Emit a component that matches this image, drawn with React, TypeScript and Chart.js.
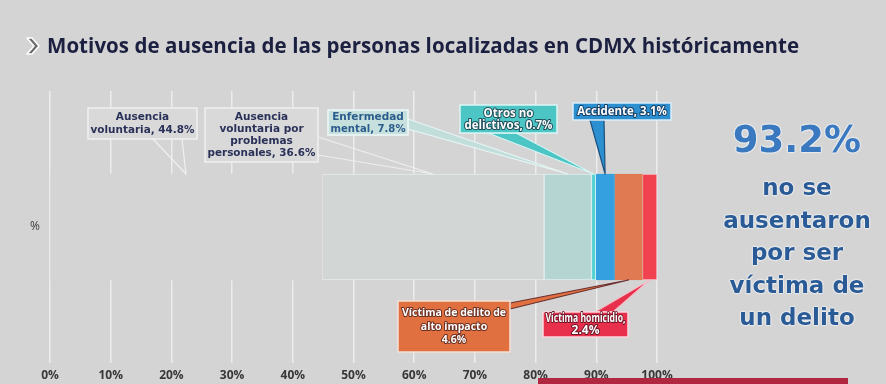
import React, { useEffect, useRef } from "react";
import { Chart, registerables } from "chart.js";

Chart.register(...registerables);

// ---------- DATA ----------
const Y_LABELS = ["%"];
const CATEGORIES = [
  "Ausencia voluntaria",
  "Ausencia voluntaria por problemas personales",
  "Enfermedad mental",
  "Otros no delictivos",
  "Accidente",
  "Víctima de delito de alto impacto",
  "Víctima homicidio",
];
const VALUES = [44.8, 36.6, 7.8, 0.7, 3.1, 4.6, 2.4];
const LABEL_LINES = [
  ["Ausencia", "voluntaria, 44.8%"],
  ["Ausencia", "voluntaria por", "problemas", "personales, 36.6%"],
  ["Enfermedad", "mental, 7.8%"],
  ["Otros no", "delictivos, 0.7%"],
  ["Accidente, 3.1%"],
  ["Víctima de delito de", "alto impacto", "4.6%"],
  ["Víctima homicidio,", "2.4%"],
];
const X_MIN = 0;
const X_MAX = 100;
const X_STEP = 10;
const TITLE = "Motivos de ausencia de las personas localizadas en CDMX históricamente";
const HIGHLIGHT_VALUE = "93.2%";
const HIGHLIGHT_LINES = ["no se", "ausentaron", "por ser", "víctima de", "un delito"];

// ---------- STYLE / LAYOUT ----------
const BG = "#d4d4d4";
const SEG_COLORS = ["#d4d4d4", "#d2d6d5", "#b5d5d2", "#55d0d0", "#35a0df", "#e07a52", "#f0424f"];
const SEG_BORDERS = ["rgba(0,0,0,0)", "#e6ecec", "#e0f0ef", "#c8f4f4", "#35a0df", "#e07a52", "#f6c9d0"];

type Callout = {
  box: [number, number, number, number];
  base: [number, number, number, number];
  side: "top" | "bottom";
  bg: string;
  border: string;
  text: string;
  textStroke?: string;
  font: string;
  lineH: number;
  wedgeFill?: string;
  wedgeStroke: string;
};

const DARK_FONT = "bold 10.5px 'DejaVu Sans'";
const LIGHT_FONT = "bold 11.5px 'Open Sans'";

const CALLOUTS: Callout[] = [
  { box: [88, 108, 109, 31], base: [153, 139, 182, 139], side: "top", bg: "#d9d9d9", border: "#f0f0f0",
    text: "#2a3158", font: DARK_FONT, lineH: 12.5, wedgeStroke: "#f0f0f0" },
  { box: [205, 108, 113, 54], base: [318, 137, 318, 155], side: "top", bg: "#d9d9d9", border: "#f0f0f0",
    text: "#2a3158", font: DARK_FONT, lineH: 12, wedgeStroke: "#eeeeee" },
  { box: [328, 110, 80, 25], base: [408, 119, 408, 129], side: "top", bg: "#c6e0dd", border: "#eef8f8",
    text: "#2c5d8c", font: DARK_FONT, lineH: 12, wedgeFill: "#c2dedb", wedgeStroke: "#e6f4f3" },
  { box: [460, 105, 97, 28], base: [488, 133, 516, 133], side: "top", bg: "#4cc5c5", border: "#dcf6f6",
    text: "#ffffff", textStroke: "#1f4f5a", font: LIGHT_FONT, lineH: 12, wedgeFill: "#4cc5c5", wedgeStroke: "#d8f4f4" },
  { box: [573, 103, 98, 17], base: [590, 120, 604, 120], side: "top", bg: "#2b8fd0", border: "#dceefa",
    text: "#ffffff", textStroke: "#173f66", font: LIGHT_FONT, lineH: 12, wedgeFill: "#2b8fd0", wedgeStroke: "#1b4f7c" },
  { box: [398, 301, 112, 51], base: [510, 303, 510, 309], side: "bottom", bg: "#e07040", border: "#f6e0d8",
    text: "#ffffff", textStroke: "#6b2f20", font: "bold 10.5px 'Open Sans'", lineH: 13.5, wedgeFill: "#e07040", wedgeStroke: "#6b3030" },
  { box: [543, 312, 85, 25], base: [595, 312, 613, 312], side: "bottom", bg: "#e8304c", border: "#f8d8de",
    text: "#ffffff", textStroke: "#6b1525", font: "bold 12px 'Open Sans'", lineH: 12, wedgeFill: "#e8304c", wedgeStroke: "#f2c0c8" },
];

const calloutPlugin = {
  id: "callouts",
  afterDraw(chart: any) {
    const ctx: CanvasRenderingContext2D = chart.ctx;
    const xs = chart.scales.x;
    let cum = 0;
    ctx.save();
    VALUES.forEach((v, i) => {
      const el = chart.getDatasetMeta(i).data[0] as any;
      const mid = xs.getPixelForValue(cum + v / 2);
      cum += v;
      const L = CALLOUTS[i];
      if (!L || !el) return;
      const tipY = L.side === "top" ? el.y - el.height / 2 : el.y + el.height / 2;
      // wedge
      ctx.beginPath();
      ctx.moveTo(L.base[0], L.base[1]);
      ctx.lineTo(mid, tipY);
      ctx.lineTo(L.base[2], L.base[3]);
      if (L.wedgeFill) {
        ctx.closePath();
        ctx.fillStyle = L.wedgeFill;
        ctx.fill();
      }
      ctx.lineWidth = 1.2;
      ctx.strokeStyle = L.wedgeStroke;
      ctx.stroke();
      // box
      const [bx, by, bw, bh] = L.box;
      ctx.fillStyle = L.bg;
      ctx.fillRect(bx, by, bw, bh);
      ctx.lineWidth = 1.5;
      ctx.strokeStyle = L.border;
      ctx.strokeRect(bx, by, bw, bh);
      // text
      const lines = LABEL_LINES[i];
      ctx.font = L.font;
      ctx.textAlign = "center";
      ctx.textBaseline = "middle";
      const cx = bx + bw / 2;
      const cy = by + bh / 2;
      lines.forEach((t, k) => {
        const ty = cy + (k - (lines.length - 1) / 2) * L.lineH + 0.5;
        if (L.textStroke) {
          ctx.lineWidth = 2;
          ctx.lineJoin = "round";
          ctx.strokeStyle = L.textStroke;
          ctx.strokeText(t, cx, ty, bw - 5);
        }
        ctx.fillStyle = L.text;
        ctx.fillText(t, cx, ty, bw - 5);
      });
    });
    ctx.restore();
  },
};

export default function App() {
  const ref = useRef<HTMLCanvasElement | null>(null);

  useEffect(() => {
    if (!ref.current) return;
    const chart = new Chart(ref.current, {
      type: "bar",
      data: {
        labels: Y_LABELS,
        datasets: CATEGORIES.map((c, i) => ({
          label: c,
          data: [VALUES[i]],
          backgroundColor: SEG_COLORS[i],
          borderColor: SEG_BORDERS[i],
          borderWidth: i === 0 ? 0 : 1,
          borderSkipped: false,
          barThickness: 106,
        })),
      },
      options: {
        indexAxis: "y",
        animation: false,
        responsive: true,
        maintainAspectRatio: false,
        layout: { padding: { top: 91, right: 229, left: 0, bottom: 0 } },
        plugins: {
          legend: { display: false },
          tooltip: { enabled: false },
          title: { display: false },
        },
        scales: {
          x: {
            stacked: true,
            min: X_MIN,
            max: X_MAX,
            ticks: {
              stepSize: X_STEP,
              padding: 5,
              color: "#383838",
              font: { family: "'Open Sans'", size: 12, weight: "bold" },
              callback: (v: any) => `${v}%`,
            },
            grid: { color: "#ececec", lineWidth: 1.5, drawTicks: false },
            border: { display: false },
            afterFit: (s: any) => {
              s.height = 21;
            },
          },
          y: {
            stacked: true,
            ticks: {
              padding: 10,
              color: "#3c3c3c",
              font: { family: "'Open Sans'", size: 12 },
            },
            grid: { display: false, drawTicks: false },
            border: { display: false },
            afterFit: (s: any) => {
              s.width = 50;
            },
          },
        },
      },
      plugins: [calloutPlugin],
    } as any);
    return () => chart.destroy();
  }, []);

  return (
    <div
      style={{
        position: "fixed",
        left: 0,
        top: 0,
        width: 886,
        height: 384,
        background: BG,
        overflow: "hidden",
        fontFamily: "'Open Sans', sans-serif",
      }}
    >
      <div style={{ position: "absolute", left: 0, top: 0, width: 886, height: 384 }}>
        <canvas ref={ref} />
      </div>
      <svg
        style={{ position: "absolute", left: 25, top: 37 }}
        width={16}
        height={18}
        viewBox="0 0 16 18"
      >
        <path d="M2 1 L7 1 L14 9 L7 17 L2 17 L9 9 Z" fill="#6a6a6a" stroke="#ffffff" strokeWidth={1.6} strokeLinejoin="round" />
      </svg>
      <div
        style={{
          position: "absolute",
          left: 47,
          top: 33,
          fontSize: 20.5,
          lineHeight: "24px",
          fontWeight: 700,
          color: "#1c2040",
          whiteSpace: "nowrap",
          letterSpacing: "0.05px",
        }}
      >
        {TITLE}
      </div>
      <div
        style={{
          position: "absolute",
          left: 707,
          width: 180,
          top: 118,
          textAlign: "center",
          fontFamily: "'DejaVu Sans', sans-serif",
          fontWeight: 700,
          textShadow: "0 0 2px #fff, 0 0 2px #fff, 0 0 1px #fff",
        }}
      >
        <div style={{ fontSize: 37, lineHeight: "44px", color: "#3a78c0" }}>{HIGHLIGHT_VALUE}</div>
        <div style={{ fontSize: 23, lineHeight: "32.5px", color: "#2a5b96", marginTop: 9 }}>
          {HIGHLIGHT_LINES.map((l, i) => (
            <div key={i}>{l}</div>
          ))}
        </div>
      </div>
      <div
        style={{
          position: "absolute",
          left: 538,
          top: 378,
          width: 310,
          height: 6,
          background: "#b0283f",
        }}
      />
    </div>
  );
}
